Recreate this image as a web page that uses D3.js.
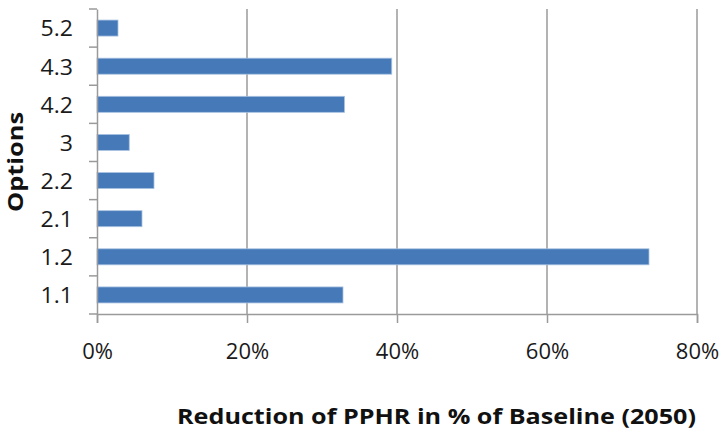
<!DOCTYPE html>
<html>
<head>
<meta charset="utf-8">
<script src="https://cdn.jsdelivr.net/npm/d3@7"></script>
<style>
  html, body { margin: 0; padding: 0; background: #fff; }
  svg { display: block; }
</style>
</head>
<body>
<svg id="chart" width="720" height="430"></svg>
<script>
const categories = ["1.1", "1.2", "2.1", "2.2", "3", "4.2", "4.3", "5.2"];
const values = [32.8, 73.6, 6.0, 7.6, 4.3, 33.0, 39.3, 2.8];
const xTicks = [0, 20, 40, 60, 80];
const xTitle = "Reduction of PPHR in % of Baseline (2050)";
const yTitle = "Options";

const font = "'Open Sans', 'DejaVu Sans', sans-serif";
const svg = d3.select("#chart");
const m = { left: 97, right: 23, top: 9, bottom: 116 };
const W = 720, H = 430;

const x = d3.scaleLinear().domain([0, 80]).range([m.left, W - m.right]);
const y = d3.scaleBand().domain(categories.slice().reverse()).range([m.top, H - m.bottom]).padding(0);
const barH = y.bandwidth() * 0.42;

// gridlines
svg.append("g").selectAll("line").data(xTicks.filter(d => d > 0)).join("line")
  .attr("x1", d => x(d)).attr("x2", d => x(d))
  .attr("y1", m.top).attr("y2", H - m.bottom)
  .attr("stroke", "#8a8a8a").attr("stroke-width", 1.3);

// bars
svg.append("g").selectAll("rect").data(categories).join("rect")
  .attr("x", x(0))
  .attr("y", d => y(d) + (y.bandwidth() - barH) / 2)
  .attr("width", (d, i) => x(values[i]) - x(0))
  .attr("height", barH)
  .attr("fill", "#4579b8")
  .attr("stroke", "#a9c2e2").attr("stroke-width", 0.8);

// x axis
const xAxis = svg.append("g").attr("transform", `translate(0,${H - m.bottom})`)
  .call(d3.axisBottom(x).tickValues(xTicks).tickSize(9).tickPadding(0).tickFormat(d => d + "%"));
xAxis.select(".domain").attr("stroke", "#9a9a9a").attr("stroke-width", 1.5);
xAxis.selectAll(".tick line").attr("stroke", "#9a9a9a").attr("stroke-width", 1.5);
xAxis.selectAll(".tick text").attr("y", 45).attr("dy", 0)
  .attr("font-family", font).attr("font-size", 22).attr("fill", "#1a1a1a");

// y axis
const yAxis = svg.append("g").attr("transform", `translate(${m.left},0)`)
  .call(d3.axisLeft(y).tickSize(0).tickPadding(24));
yAxis.select(".domain").attr("stroke", "#9a9a9a").attr("stroke-width", 1.5);
yAxis.selectAll(".tick text").attr("font-family", font).attr("font-size", 21)
  .attr("fill", "#1a1a1a").attr("dy", "0.4em")
  .attr("transform", "scale(1.1,1)").attr("x", -24 / 1.1);
// boundary ticks
const bounds = categories.map(d => y(d)).concat([H - m.bottom]);
yAxis.append("g").selectAll("line").data(bounds).join("line")
  .attr("x1", -8).attr("x2", 0).attr("y1", d => d).attr("y2", d => d)
  .attr("stroke", "#9a9a9a").attr("stroke-width", 1.5);

// titles
svg.append("text").attr("x", 436.5).attr("y", 424).attr("text-anchor", "middle")
  .attr("font-family", font).attr("font-weight", "bold").attr("font-size", 21.5)
  .attr("textLength", 519).attr("lengthAdjust", "spacingAndGlyphs")
  .attr("fill", "#111").text(xTitle);
svg.append("text").attr("transform", "translate(23,162) rotate(-90)")
  .attr("text-anchor", "middle")
  .attr("font-family", font).attr("font-weight", "bold").attr("font-size", 22)
  .attr("textLength", 100).attr("lengthAdjust", "spacingAndGlyphs")
  .attr("fill", "#111").text(yTitle);
</script>
</body>
</html>
